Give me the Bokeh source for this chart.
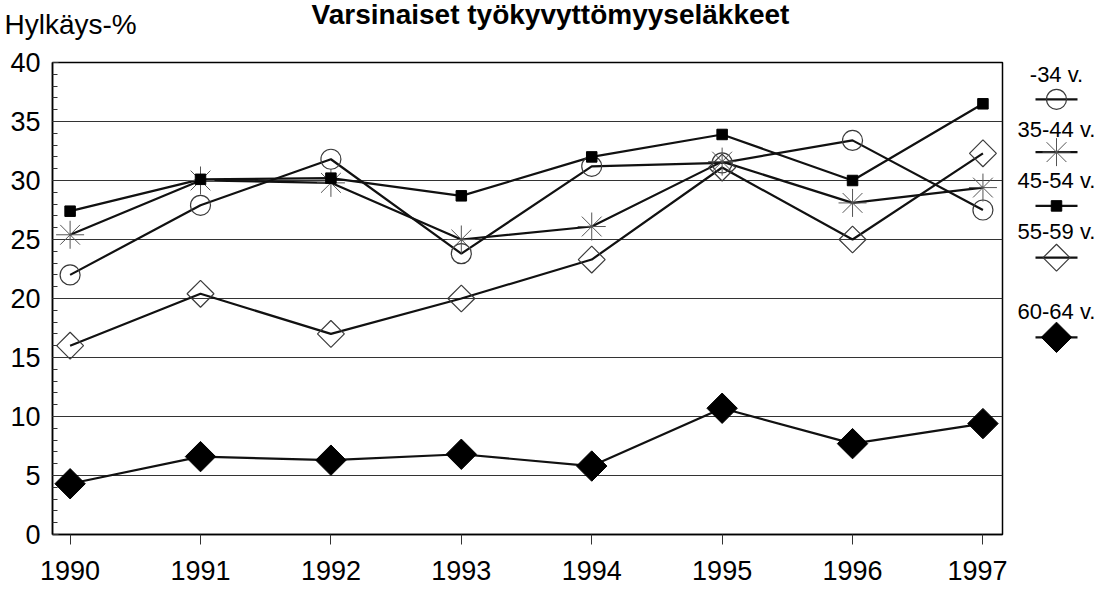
import math
from bokeh.plotting import figure
from bokeh.layouts import row
from bokeh.models import Range1d, FixedTicker, SingleIntervalTicker, Label
from bokeh.core.properties import value
from bokeh.embed import file_html
from bokeh.resources import INLINE

# ---- data ----
years = [1990, 1991, 1992, 1993, 1994, 1995, 1996, 1997]
s_34 = [22.0, 27.9, 31.8, 23.8, 31.2, 31.5, 33.4, 27.5]
s_35_44 = [25.4, 30.0, 29.8, 25.0, 26.1, 31.6, 28.1, 29.4]
s_45_54 = [27.4, 30.1, 30.2, 28.7, 32.0, 33.9, 30.0, 36.5]
s_55_59 = [16.0, 20.4, 17.0, 20.0, 23.3, 31.1, 25.0, 32.3]
s_60_64 = [4.3, 6.6, 6.3, 6.8, 5.8, 10.7, 7.7, 9.4]
series_labels = ["-34 v.", "35-44 v.", "45-54 v.", "55-59 v.", "60-64 v."]
title_text = "Varsinaiset työkyvyttömyyseläkkeet"
y_title = "Hylkäys-%"

FONT = "Liberation Sans"
LINE = "#111111"
MARK = "#3a3a3a"

p = figure(width=1007, height=590, output_backend="svg", toolbar_location=None,
           x_range=Range1d(1989.865, 1997.15), y_range=Range1d(0, 40),
           min_border_left=52, min_border_right=5, min_border_top=60, min_border_bottom=56)
p.outline_line_color = "black"
p.outline_line_width = 1.5
p.background_fill_color = "white"
p.border_fill_color = "white"

# axes
p.xaxis.ticker = FixedTicker(ticks=years)
p.xaxis.major_tick_out = 10
p.xaxis.major_tick_in = 0
p.xaxis.minor_tick_out = 0
p.xaxis.minor_tick_in = 0
p.xaxis.major_label_standoff = 16
p.xaxis.major_label_text_font = FONT
p.xaxis.major_label_text_font_size = "27px"
p.xaxis.major_label_text_color = "black"
p.xaxis.axis_line_color = "black"
p.xaxis.axis_line_width = 1.5
p.xaxis.major_tick_line_color = "#333333"

yt = SingleIntervalTicker(interval=5, num_minor_ticks=5)
p.yaxis.ticker = yt
p.yaxis.major_tick_out = 0
p.yaxis.major_tick_in = 6
p.yaxis.minor_tick_in = 5
p.yaxis.minor_tick_out = 0
p.yaxis.major_label_standoff = 12
p.yaxis.major_label_text_font = FONT
p.yaxis.major_label_text_font_size = "27px"
p.yaxis.major_label_text_color = "black"
p.yaxis.axis_line_color = "black"
p.yaxis.axis_line_width = 1.5
p.yaxis.major_tick_line_color = "#333333"
p.yaxis.minor_tick_line_color = "#333333"

p.xgrid.visible = False
p.ygrid.ticker = yt
p.ygrid.grid_line_color = "#333333"
p.ygrid.grid_line_width = 1

# series lines
for ys in [s_34, s_35_44, s_45_54, s_55_59, s_60_64]:
    p.line(years, ys, line_color=LINE, line_width=2.2)

# markers
p.scatter(years, s_34, marker="circle", size=20, fill_alpha=0, line_color=MARK, line_width=1.2)
p.scatter(years, s_35_44, marker="asterisk", size=28, line_color="#555555", line_width=1)
p.scatter(years, s_45_54, marker="square", size=10.5, fill_color="black", line_color="black")
p.scatter(years, s_55_59, marker="square", angle=math.pi / 4, size=19, fill_alpha=0,
          line_color=MARK, line_width=1.2)
p.scatter(years, s_60_64, marker="square", angle=math.pi / 4, size=21.5, fill_color="black",
          line_color="black")

# texts in the top panel (side-panel annotations are not clipped to the frame)
p.add_layout(Label(x=-48, y=38, x_units="screen", y_units="screen", text=y_title,
                   text_font=FONT, text_font_size="28px", text_color="black",
                   text_baseline="alphabetic", text_align="left"), "above")
p.add_layout(Label(x=498, y=17, x_units="screen", y_units="screen", text=title_text,
                   text_font=FONT, text_font_size="28px", text_font_style="bold",
                   text_color="black", text_baseline="alphabetic", text_align="center"), "above")

# ---- legend figure (its frame is aligned with the main frame by the row) ----
lg = figure(width=92, height=590, output_backend="svg", toolbar_location=None,
            x_range=Range1d(1007, 1099), y_range=Range1d(534, 60),
            min_border=0, min_border_left=0, min_border_right=0)
lg.axis.visible = False
lg.grid.visible = False
lg.outline_line_color = None

cx = 1056
text_y = [72, 127, 178, 230, 310]
mark_y = [97, 150, 204, 256, 336]
lg.text(x=[cx] * 5, y=text_y, text=series_labels, text_font=value(FONT),
        text_font_size="22px", text_align="center", text_baseline="middle", text_color="black")
lg.segment(x0=[cx - 21] * 5, x1=[cx + 21] * 5, y0=mark_y, y1=mark_y, line_color=LINE, line_width=2.2)
lg.scatter([cx], [mark_y[0]], marker="circle", size=20, fill_alpha=0, line_color=MARK, line_width=1.2)
lg.scatter([cx], [mark_y[1]], marker="asterisk", size=28, line_color="#555555", line_width=1)
lg.scatter([cx], [mark_y[2]], marker="square", size=10.5, fill_color="black", line_color="black")
lg.scatter([cx], [mark_y[3]], marker="square", angle=math.pi / 4, size=19, fill_alpha=0,
           line_color=MARK, line_width=1.2)
lg.scatter([cx], [mark_y[4]], marker="square", angle=math.pi / 4, size=21.5, fill_color="black",
           line_color="black")

layout = row(p, lg)
open("out.html", "w").write(file_html(layout, INLINE))
